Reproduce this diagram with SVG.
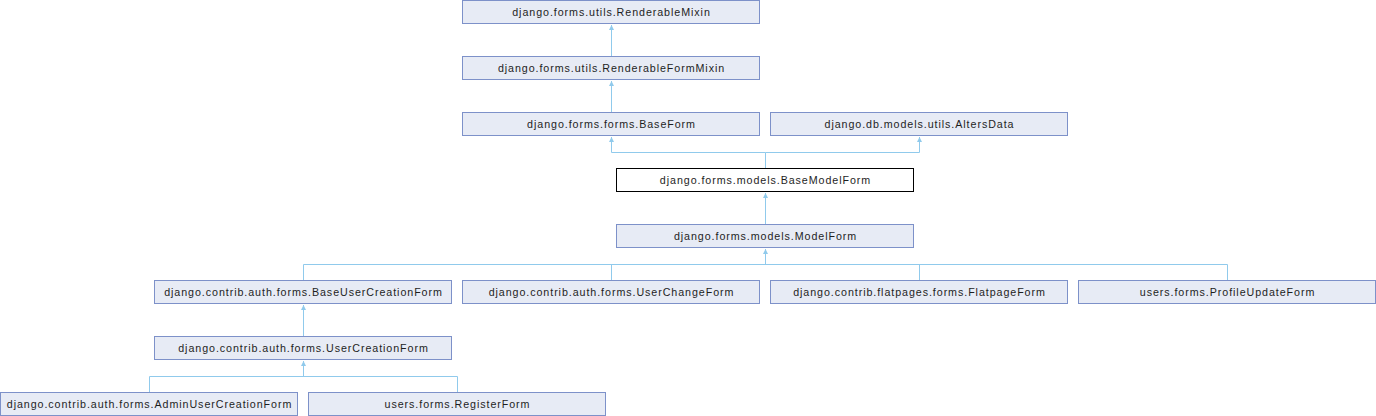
<svg xmlns="http://www.w3.org/2000/svg" width="1376" height="416" viewBox="0 0 1376 416">
<defs>
<style>
.n rect{fill:#e7ebf5;stroke:#7d91c9;stroke-width:1}
.n.f rect{fill:#ffffff;stroke:#000000}
.n text{font-family:"Liberation Sans",Arial,sans-serif;font-size:10.7px;letter-spacing:0.93px;fill:#1e1e1e;text-anchor:middle}
.e path{fill:none;stroke:#90caec;stroke-width:1}
</style>
<marker id="ah" viewBox="0 0 10 10" refX="10" refY="5" markerWidth="5" markerHeight="5" orient="auto" markerUnits="userSpaceOnUse">
<path d="M0,0 L10,5 L0,10 z" fill="#90caec" stroke="none"/>
</marker>
</defs>
<rect x="0" y="0" width="1376" height="416" fill="#ffffff"/>
<g id="edges" class="e">
<path d="M611.5,56 V25" marker-end="url(#ah)"/>
<path d="M611.5,112 V81" marker-end="url(#ah)"/>
<path d="M765.5,168.5 V152.5 H611.5 V137" marker-end="url(#ah)"/>
<path d="M765.5,152.5 H919.5 V137" marker-end="url(#ah)"/>
<path d="M765.5,224.5 V193" marker-end="url(#ah)"/>
<path d="M765.5,264.5 V249" marker-end="url(#ah)"/>
<path d="M303.5,280.5 V264.5 H1227.5 V280.5"/>
<path d="M611.5,264.5 V280.5"/>
<path d="M919.5,264.5 V280.5"/>
<path d="M303.5,336.5 V305" marker-end="url(#ah)"/>
<path d="M303.5,376.5 V361" marker-end="url(#ah)"/>
<path d="M149.5,392.5 V376.5 H457.5 V392.5"/>
</g>
<g id="n_renderablemixin" class="n"><rect x="462.5" y="0.5" width="297" height="23"/><text x="611.5" y="15.5">django.forms.utils.RenderableMixin</text></g>
<g id="n_renderableformmixin" class="n"><rect x="462.5" y="56.5" width="297" height="23"/><text x="611.5" y="71.5">django.forms.utils.RenderableFormMixin</text></g>
<g id="n_baseform" class="n"><rect x="462.5" y="112.5" width="297" height="23"/><text x="611.5" y="127.5">django.forms.forms.BaseForm</text></g>
<g id="n_altersdata" class="n"><rect x="770.5" y="112.5" width="297" height="23"/><text x="919.5" y="127.5">django.db.models.utils.AltersData</text></g>
<g id="n_basemodelform" class="n f"><rect x="616.5" y="168.5" width="297" height="23"/><text x="765.5" y="183.5">django.forms.models.BaseModelForm</text></g>
<g id="n_modelform" class="n"><rect x="616.5" y="224.5" width="297" height="23"/><text x="765.5" y="239.5">django.forms.models.ModelForm</text></g>
<g id="n_baseusercreationform" class="n"><rect x="154.5" y="280.5" width="297" height="23"/><text x="303.5" y="295.5">django.contrib.auth.forms.BaseUserCreationForm</text></g>
<g id="n_userchangeform" class="n"><rect x="462.5" y="280.5" width="297" height="23"/><text x="611.5" y="295.5">django.contrib.auth.forms.UserChangeForm</text></g>
<g id="n_flatpageform" class="n"><rect x="770.5" y="280.5" width="297" height="23"/><text x="919.5" y="295.5">django.contrib.flatpages.forms.FlatpageForm</text></g>
<g id="n_profileupdateform" class="n"><rect x="1078.5" y="280.5" width="297" height="23"/><text x="1227.5" y="295.5">users.forms.ProfileUpdateForm</text></g>
<g id="n_usercreationform" class="n"><rect x="154.5" y="336.5" width="297" height="23"/><text x="303.5" y="351.5">django.contrib.auth.forms.UserCreationForm</text></g>
<g id="n_adminusercreationform" class="n"><rect x="0.5" y="392.5" width="297" height="23"/><text x="149.5" y="407.5">django.contrib.auth.forms.AdminUserCreationForm</text></g>
<g id="n_registerform" class="n"><rect x="308.5" y="392.5" width="297" height="23"/><text x="457.5" y="407.5">users.forms.RegisterForm</text></g>
</svg>
